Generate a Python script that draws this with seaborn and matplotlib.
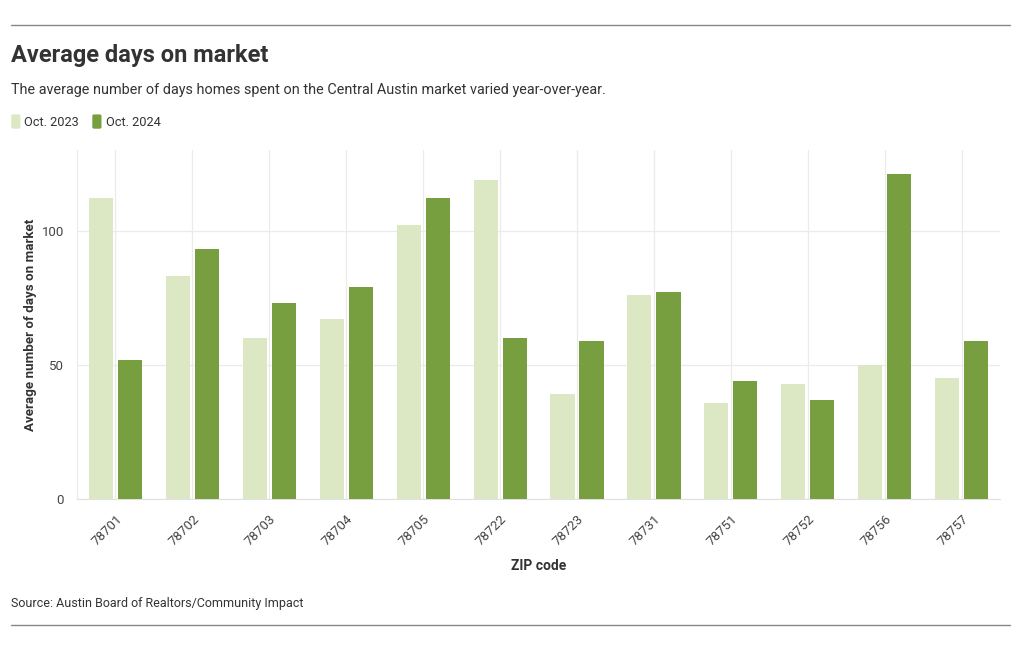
import matplotlib
matplotlib.use('Agg')
import pandas as pd
import matplotlib.pyplot as plt
import seaborn as sns
from matplotlib.patches import FancyBboxPatch

zip_codes = ['78701', '78702', '78703', '78704', '78705', '78722',
             '78723', '78731', '78751', '78752', '78756', '78757']
oct_2023 = [112, 83, 60, 67, 102, 119, 39, 76, 36, 43, 50, 45]
oct_2024 = [52, 93, 73, 79, 112, 60, 59, 77, 44, 37, 121, 59]
periods = ['Oct. 2023', 'Oct. 2024']
y_ticks = [0, 50, 100]

df = pd.DataFrame({
    'ZIP code': zip_codes * 2,
    'Days': oct_2023 + oct_2024,
    'Period': [periods[0]] * len(zip_codes) + [periods[1]] * len(zip_codes),
})

sns.set_style('white')
plt.rcParams['font.family'] = ['Roboto', 'DejaVu Sans']

light_green = '#dce8c4'
dark_green = '#789f3f'
grid_col = '#ebebeb'
text_col = '#333333'

fig = plt.figure(figsize=(10.2, 6.5), dpi=100)
ax = fig.add_axes([0.0755, 0.232, 0.905, 0.537])

sns.barplot(data=df, x='ZIP code', y='Days', hue='Period',
            palette=[light_green, dark_green], saturation=1,
            width=0.755, gap=0.17, linewidth=0, legend=False, ax=ax, zorder=3)

ax.set_xlim(-0.5, len(zip_codes) - 0.5)
ax.set_ylim(0, 130)
ax.set_yticks(y_ticks)
ax.grid(True, color=grid_col, linewidth=0.9, zorder=0)
ax.set_axisbelow(True)
for s in ['top', 'right']:
    ax.spines[s].set_visible(False)
ax.spines['left'].set_color(grid_col)
ax.spines['bottom'].set_color('#e0e0e0')
ax.tick_params(axis='both', length=6, color=grid_col, labelsize=9.5,
               labelcolor='#444444', width=0.9)
plt.setp(ax.get_xticklabels(), rotation=45, ha='right', rotation_mode='anchor')

ax.set_xlabel('ZIP code', fontsize=10, fontweight='bold', color=text_col, labelpad=8)
ax.set_ylabel('Average number of days on market', fontsize=9.6,
              fontweight='bold', color=text_col, labelpad=3)

# header / footer
fig.add_artist(plt.Line2D([0.011, 0.99], [0.962, 0.962], color='#888888', linewidth=1))
fig.add_artist(plt.Line2D([0.011, 0.99], [0.038, 0.038], color='#888888', linewidth=1))
fig.text(0.011, 0.915, 'Average days on market', fontsize=17, fontweight='bold',
         color=text_col, va='center')
fig.text(0.011, 0.861, 'The average number of days homes spent on the Central Austin market varied year-over-year.',
         fontsize=10.4, color=text_col, va='center')
fig.text(0.011, 0.072, 'Source: Austin Board of Realtors/Community Impact',
         fontsize=9, color=text_col, va='center')

# legend
lx = 0.011
for label, col in zip(periods, [light_green, dark_green]):
    fig.add_artist(FancyBboxPatch((lx, 0.802), 0.009, 0.022,
                                  boxstyle='round,pad=0,rounding_size=0.002',
                                  facecolor=col, edgecolor='none',
                                  transform=fig.transFigure))
    fig.text(lx + 0.013, 0.812, label, fontsize=9.2, color=text_col, va='center')
    lx += 0.0795

fig.savefig('out.png', dpi=100)
